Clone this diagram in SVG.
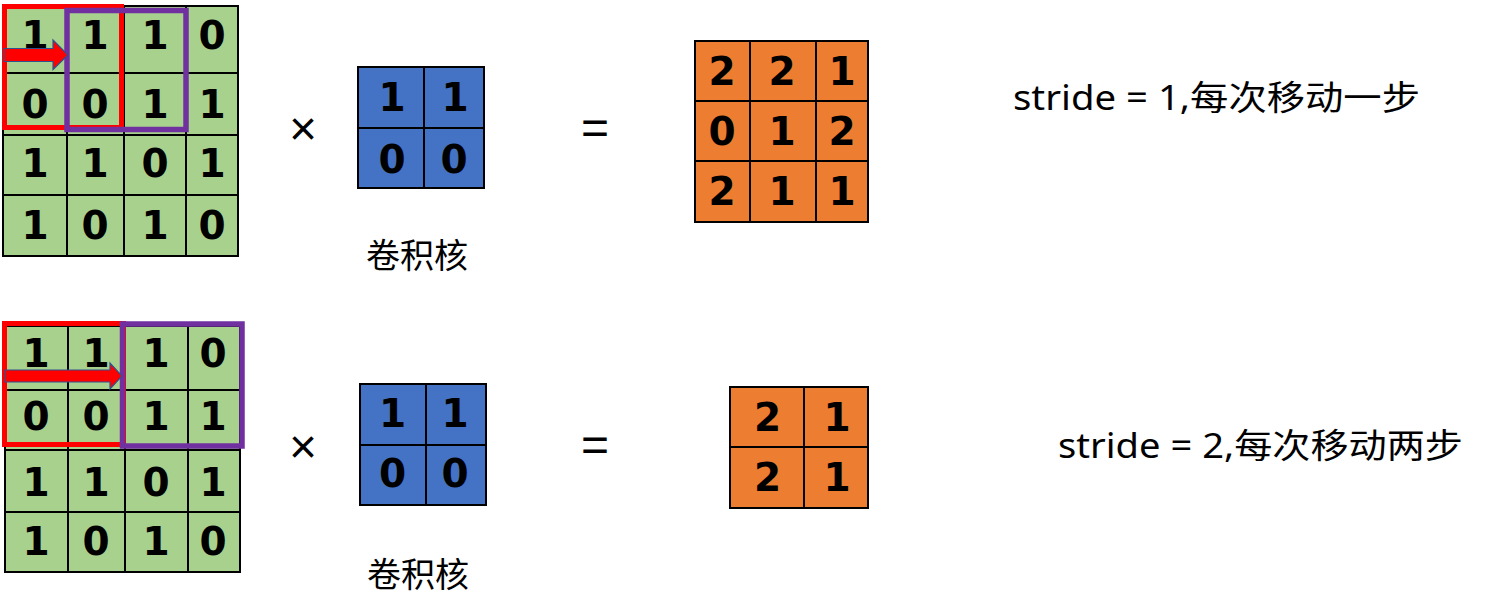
<svg xmlns="http://www.w3.org/2000/svg" width="1491" height="612" viewBox="0 0 1491 612">
<style>
.g{fill:#A9D18E;stroke:#000;stroke-width:2}
.b{fill:#4472C4;stroke:#000;stroke-width:2}
.o{fill:#ED7D31;stroke:#000;stroke-width:2}
.d{font-family:"DejaVu Sans",Verdana,sans-serif;font-weight:bold;font-size:39px;text-anchor:middle;fill:#000}
.red{fill:none;stroke:#FF0000;stroke-width:5}
.pur{fill:none;stroke:#7030A0;stroke-width:5.5}
.arr{fill:#FF0000;stroke:#2F528F;stroke-width:1.2}
.t{font-family:"Noto Sans","Noto Sans CJK SC",sans-serif;font-size:34px;fill:#000}
.op{font-family:"Liberation Sans",Arial,sans-serif;font-size:48px;fill:#000;text-anchor:middle}
</style>
<rect width="1491" height="612" fill="#fff"/>

<!-- Top row -->
<g id="input1">
<rect class="g" x="3" y="6" width="64" height="67"/><rect class="g" x="67" y="6" width="57" height="67"/><rect class="g" x="124" y="6" width="62" height="67"/><rect class="g" x="186" y="6" width="52" height="67"/>
<rect class="g" x="3" y="73" width="64" height="62"/><rect class="g" x="67" y="73" width="57" height="62"/><rect class="g" x="124" y="73" width="62" height="62"/><rect class="g" x="186" y="73" width="52" height="62"/>
<rect class="g" x="3" y="135" width="64" height="60"/><rect class="g" x="67" y="135" width="57" height="60"/><rect class="g" x="124" y="135" width="62" height="60"/><rect class="g" x="186" y="135" width="52" height="60"/>
<rect class="g" x="3" y="195" width="64" height="61"/><rect class="g" x="67" y="195" width="57" height="61"/><rect class="g" x="124" y="195" width="62" height="61"/><rect class="g" x="186" y="195" width="52" height="61"/>
<text class="d" x="35" y="49">1</text><text class="d" x="95" y="49">1</text><text class="d" x="155" y="49">1</text><text class="d" x="212" y="49">0</text>
<text class="d" x="35" y="118">0</text><text class="d" x="95" y="118">0</text><text class="d" x="155" y="118">1</text><text class="d" x="212" y="118">1</text>
<text class="d" x="35" y="177">1</text><text class="d" x="95" y="177">1</text><text class="d" x="155" y="177">0</text><text class="d" x="212" y="177">1</text>
<text class="d" x="35" y="239">1</text><text class="d" x="95" y="239">0</text><text class="d" x="155" y="239">1</text><text class="d" x="212" y="239">0</text>
</g>
<g id="window1">
<rect class="red" x="4.5" y="6.5" width="117" height="121"/>
<rect class="pur" x="67" y="10.5" width="119" height="119"/>
<polygon class="arr" points="4,48.5 53,48.5 53,40 68,55 53,69.5 53,61.5 4,61.5"/>
</g>
<text class="op" x="303" y="145">×</text>
<g id="kernel1">
<rect class="b" x="358" y="67" width="66" height="61"/><rect class="b" x="424" y="67" width="60" height="61"/>
<rect class="b" x="358" y="128" width="66" height="60"/><rect class="b" x="424" y="128" width="60" height="60"/>
<text class="d" x="392" y="111">1</text><text class="d" x="455" y="111">1</text>
<text class="d" x="392" y="173">0</text><text class="d" x="454" y="173">0</text>
</g>
<text class="t" x="417" y="268" text-anchor="middle">卷积核</text>
<text class="op" x="595" y="144">=</text>
<g id="output1">
<rect class="o" x="695" y="41" width="55" height="60"/><rect class="o" x="750" y="41" width="66" height="60"/><rect class="o" x="816" y="41" width="52" height="60"/>
<rect class="o" x="695" y="101" width="55" height="60"/><rect class="o" x="750" y="101" width="66" height="60"/><rect class="o" x="816" y="101" width="52" height="60"/>
<rect class="o" x="695" y="161" width="55" height="61"/><rect class="o" x="750" y="161" width="66" height="61"/><rect class="o" x="816" y="161" width="52" height="61"/>
<text class="d" x="722" y="85">2</text><text class="d" x="782" y="85">2</text><text class="d" x="842" y="85">1</text>
<text class="d" x="722" y="145">0</text><text class="d" x="782" y="145">1</text><text class="d" x="842" y="145">2</text>
<text class="d" x="722" y="205">2</text><text class="d" x="782" y="205">1</text><text class="d" x="842" y="205">1</text>
</g>
<text class="t" x="1013" y="110" textLength="407" lengthAdjust="spacingAndGlyphs">stride = 1,每次移动一步</text>

<!-- Bottom row -->
<g id="input2">
<rect class="g" x="5" y="326" width="63" height="64"/><rect class="g" x="68" y="326" width="57" height="64"/><rect class="g" x="125" y="326" width="63" height="64"/><rect class="g" x="188" y="326" width="52" height="64"/>
<rect class="g" x="5" y="390" width="63" height="60"/><rect class="g" x="68" y="390" width="57" height="60"/><rect class="g" x="125" y="390" width="63" height="60"/><rect class="g" x="188" y="390" width="52" height="60"/>
<rect class="g" x="5" y="450" width="63" height="62"/><rect class="g" x="68" y="450" width="57" height="62"/><rect class="g" x="125" y="450" width="63" height="62"/><rect class="g" x="188" y="450" width="52" height="62"/>
<rect class="g" x="5" y="512" width="63" height="60"/><rect class="g" x="68" y="512" width="57" height="60"/><rect class="g" x="125" y="512" width="63" height="60"/><rect class="g" x="188" y="512" width="52" height="60"/>
<text class="d" x="36" y="367">1</text><text class="d" x="96" y="367">1</text><text class="d" x="156" y="367">1</text><text class="d" x="213" y="367">0</text>
<text class="d" x="36" y="430">0</text><text class="d" x="96" y="430">0</text><text class="d" x="156" y="430">1</text><text class="d" x="213" y="430">1</text>
<text class="d" x="36" y="496">1</text><text class="d" x="96" y="496">1</text><text class="d" x="156" y="496">0</text><text class="d" x="213" y="496">1</text>
<text class="d" x="36" y="555">1</text><text class="d" x="96" y="555">0</text><text class="d" x="156" y="555">1</text><text class="d" x="213" y="555">0</text>
</g>
<g id="window2">
<rect class="red" x="4.5" y="323.5" width="119" height="121"/>
<rect class="pur" x="122.5" y="324" width="119.5" height="122"/>
<polygon class="arr" points="5,370 110,370 110,363 122,376 110,389 110,382 5,382"/>
</g>
<text class="op" x="303" y="463">×</text>
<g id="kernel2">
<rect class="b" x="360" y="384" width="66" height="61"/><rect class="b" x="426" y="384" width="60" height="61"/>
<rect class="b" x="360" y="445" width="66" height="60"/><rect class="b" x="426" y="445" width="60" height="60"/>
<text class="d" x="392.5" y="427">1</text><text class="d" x="455" y="427">1</text>
<text class="d" x="392.5" y="487">0</text><text class="d" x="455" y="487">0</text>
</g>
<text class="t" x="418" y="587" text-anchor="middle">卷积核</text>
<text class="op" x="595" y="461">=</text>
<g id="output2">
<rect class="o" x="730" y="387" width="74" height="60"/><rect class="o" x="804" y="387" width="64" height="60"/>
<rect class="o" x="730" y="447" width="74" height="61"/><rect class="o" x="804" y="447" width="64" height="61"/>
<text class="d" x="767.5" y="431">2</text><text class="d" x="837" y="431">1</text>
<text class="d" x="767.5" y="491">2</text><text class="d" x="837" y="491">1</text>
</g>
<text class="t" x="1058" y="458" textLength="405" lengthAdjust="spacingAndGlyphs">stride = 2,每次移动两步</text>
</svg>
